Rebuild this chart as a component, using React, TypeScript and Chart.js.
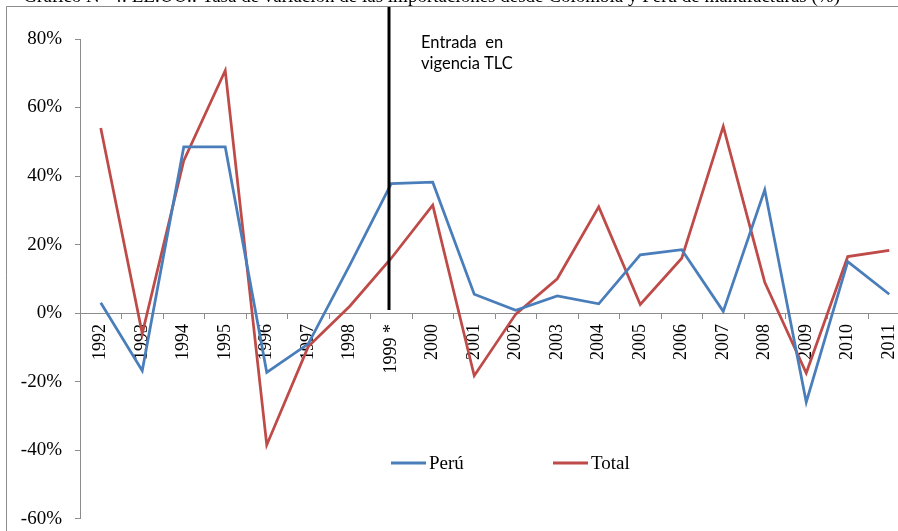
import React, { useEffect, useRef } from "react";
import { Chart, registerables } from "chart.js";

Chart.register(...registerables);

const years = ["1992", "1993", "1994", "1995", "1996", "1997", "1998", "1999 *", "2000", "2001", "2002", "2003", "2004", "2005", "2006", "2007", "2008", "2009", "2010", "2011"];
const peru = [3, -16.8, 48.5, 48.5, -17.3, -9, 14, 37.8, 38.2, 5.5, 0.8, 5, 2.7, 17, 18.5, 0.5, 36, -26, 15, 5.5];
const total = [54, -6, 44.5, 70.8, -38.5, -9.8, 2, 16, 31.5, -18.3, -0.3, 10, 31, 2.5, 16, 54.5, 9, -17.5, 16.5, 18.3];
const seriesNames = ["Perú", "Total"];
const seriesColors = ["#4A7EBB", "#BE4B48"];
const yMin = -60;
const yMax = 80;
const yStep = 20;
const treatyYear = "1999 *";
const noteLines = ["Entrada  en", "vigencia TLC"];
const titleText = "Gráfico N° 4: EE.UU.: Tasa de variación de las importaciones desde Colombia y Perú de manufacturas (%)";

const SERIF = "'Liberation Serif', 'Times New Roman', serif";

const decorPlugin = {
  id: "decor",
  beforeDraw(chart: any) {
    const ctx = chart.ctx;
    ctx.save();
    ctx.fillStyle = "#ffffff";
    ctx.fillRect(0, 0, chart.width, chart.height);
    // clipped title
    ctx.fillStyle = "#000";
    ctx.font = `19px ${SERIF}`;
    ctx.textAlign = "right";
    ctx.textBaseline = "alphabetic";
    ctx.fillText(titleText, 840, 2);
    // outer border (top & left visible)
    ctx.strokeStyle = "#8c8c8c";
    ctx.lineWidth = 1;
    ctx.beginPath();
    ctx.moveTo(6.5, chart.height + 5);
    ctx.lineTo(6.5, 6.5);
    ctx.lineTo(chart.width + 5, 6.5);
    ctx.stroke();
    ctx.restore();
  },
  afterDraw(chart: any) {
    const ctx = chart.ctx;
    const x = chart.scales.x;
    const y = chart.scales.y;
    ctx.save();
    // treaty vertical line
    const lx = Math.round(x.getPixelForValue(years.indexOf(treatyYear))) - 2;
    ctx.strokeStyle = "#000";
    ctx.lineWidth = 3;
    ctx.beginPath();
    ctx.moveTo(lx, 7);
    ctx.lineTo(lx, y.getPixelForValue(0) - 3);
    ctx.stroke();
    // note
    ctx.fillStyle = "#000";
    ctx.font = "16.5px Lato, 'Open Sans', sans-serif";
    ctx.textAlign = "left";
    ctx.textBaseline = "middle";
    ctx.fillText(noteLines[0], lx + 32, 43);
    ctx.fillText(noteLines[1], lx + 32, 64);
    // legend
    const ly = 463;
    const items = [
      { x0: 391, text: seriesNames[0], color: seriesColors[0] },
      { x0: 553, text: seriesNames[1], color: seriesColors[1] },
    ];
    ctx.font = `19px ${SERIF}`;
    ctx.textBaseline = "middle";
    items.forEach((it) => {
      ctx.strokeStyle = it.color;
      ctx.lineWidth = 3;
      ctx.beginPath();
      ctx.moveTo(it.x0, ly);
      ctx.lineTo(it.x0 + 35, ly);
      ctx.stroke();
      ctx.fillStyle = "#000";
      ctx.fillText(it.text, it.x0 + 38, ly + 1);
    });
    ctx.restore();
  },
};

export default function App() {
  const ref = useRef<HTMLCanvasElement | null>(null);
  useEffect(() => {
    if (!ref.current) return;
    const chart = new Chart(ref.current, {
      type: "line",
      data: {
        labels: years,
        datasets: [
          { label: seriesNames[0], data: peru, borderColor: seriesColors[0], borderWidth: 2.75, pointRadius: 0, tension: 0, fill: false },
          { label: seriesNames[1], data: total, borderColor: seriesColors[1], borderWidth: 2.75, pointRadius: 0, tension: 0, fill: false },
        ],
      },
      options: {
        responsive: false,
        animation: false,
        layout: { padding: { top: 39, bottom: 2, right: 10, left: 0 } },
        plugins: { legend: { display: false }, tooltip: { enabled: false }, title: { display: false } },
        scales: {
          x: {
            position: { y: 0 } as any,
            offset: true,
            grid: { display: true, drawOnChartArea: false, drawTicks: true, tickLength: 5, color: "#8c8c8c", offset: true },
            border: { display: true, color: "#8c8c8c", width: 1 },
            ticks: {
              autoSkip: false,
              minRotation: 90,
              maxRotation: 90,
              padding: 6,
              color: "#000",
              font: { family: SERIF, size: 18 },
            },
          },
          y: {
            min: yMin,
            max: yMax,
            afterFit(scale: any) {
              scale.width = 80;
            },
            grid: { drawOnChartArea: false, drawTicks: true, tickLength: 5, color: "#8c8c8c" },
            border: { display: true, color: "#8c8c8c", width: 1 },
            ticks: {
              stepSize: yStep,
              padding: 13,
              color: "#000",
              font: { family: SERIF, size: 19 },
              callback: (v: any) => `${v}%`,
            },
          },
        },
      },
      plugins: [decorPlugin],
    });
    return () => chart.destroy();
  }, []);
  return (
    <div style={{ position: "fixed", left: 0, top: 0, width: 898, height: 531, overflow: "hidden", background: "#fff" }}>
      <canvas ref={ref} width={920} height={543} style={{ display: "block", width: 920, height: 543 }} />
    </div>
  );
}
